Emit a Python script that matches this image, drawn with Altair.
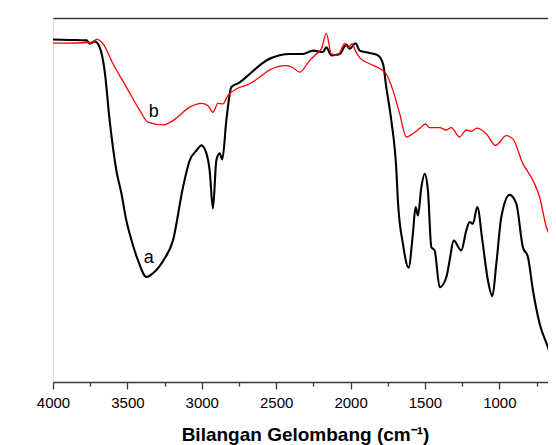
import altair as alt
import pandas as pd

# Spectrum a (black)
a_wn = [4000, 3888, 3774, 3753, 3720, 3686, 3653, 3619, 3574, 3540, 3507, 3485, 3429, 3372, 3328,
        3249, 3194, 3126, 3081, 3036, 3003, 2969, 2947, 2925, 2902, 2880, 2862, 2835, 2801, 2745,
        2678, 2566, 2477, 2409, 2320, 2253, 2186, 2163, 2129, 2073, 2028, 2006, 1966, 1939, 1872,
        1816, 1782, 1760, 1726, 1692, 1682, 1648, 1610, 1581, 1563, 1547, 1524, 1502, 1480, 1457,
        1435, 1401, 1356, 1334, 1307, 1256, 1222, 1200, 1178, 1148, 1114, 1077, 1047, 1020, 987,
        931, 886, 842, 808, 774, 729, 674, 622]
a_t = [73.4, 73.3, 73.2, 72.5, 73.0, 71.7, 66.7, 56.0, 45.3, 40.4, 34.6, 31.8, 26.1, 22.5, 23.3,
       26.5, 30.3, 41.8, 47.5, 49.6, 50.7, 49.0, 45.3, 37.2, 47.5, 49.0, 47.7, 56.0, 63.2, 64.2,
       66.0, 68.9, 70.0, 70.3, 70.3, 71.0, 70.7, 71.7, 70.0, 70.3, 72.3, 71.4, 72.6, 71.0, 70.5,
       70.0, 68.2, 63.2, 56.0, 45.3, 38.9, 29.6, 24.5, 31.8, 37.5, 35.7, 41.8, 44.6, 41.0, 28.9,
       28.2, 20.3, 22.5, 26.1, 30.3, 28.2, 32.5, 34.3, 33.9, 37.5, 30.3, 21.8, 18.4, 25.4, 35.3,
       40.1, 38.2, 28.9, 26.8, 19.6, 12.5, 7.5, 2.5]

# Spectrum b (red)
b_wn = [4000, 3798, 3753, 3742, 3708, 3664, 3597, 3507, 3417, 3362, 3261, 3194, 3081, 3003, 2958,
        2925, 2891, 2858, 2824, 2768, 2678, 2611, 2544, 2432, 2389, 2342, 2275, 2230, 2196, 2163,
        2129, 2085, 2040, 2018, 1988, 1973, 1939, 1872, 1816, 1760, 1715, 1670, 1625, 1581, 1536,
        1497, 1469, 1401, 1356, 1323, 1267, 1222, 1188, 1151, 1088, 1025, 953, 909, 842, 774,
        729, 684, 662, 622]
b_t = [72.6, 72.7, 72.8, 72.5, 73.4, 72.5, 68.2, 63.2, 58.2, 55.7, 55.1, 56.0, 58.9, 59.7, 59.2,
       57.8, 59.7, 59.6, 61.4, 62.8, 63.9, 65.3, 66.9, 67.8, 67.4, 66.4, 68.9, 70.3, 71.4, 74.7,
       70.3, 70.0, 72.5, 71.7, 72.5, 71.4, 69.5, 68.2, 67.4, 66.0, 62.5, 57.5, 52.5, 53.2, 54.3,
       55.3, 54.5, 54.5, 54.0, 54.5, 52.5, 54.0, 53.7, 54.4, 53.2, 50.7, 52.8, 52.1, 46.8, 43.2,
       39.6, 33.2, 31.4, 28.6]

# Curve labels
lab_text = ["a", "b"]
lab_wn = [3357, 3323]
lab_t = [26.5, 57.8]

x_ticks = [4000, 3750, 3500, 3250, 3000, 2750, 2500, 2250, 2000, 1750, 1500, 1250, 1000, 750]
y_ticks = [10, 20, 30, 40, 50, 60, 70]

df_a = pd.DataFrame({"wn": a_wn, "T": a_t})
df_b = pd.DataFrame({"wn": b_wn, "T": b_t})
df_lab = pd.DataFrame({"label": lab_text, "wn": lab_wn, "T": lab_t})

FONT = "Liberation Sans"
AX = "#3a3a3a"

xscale = alt.Scale(domain=[4000, 673], nice=False, zero=False)
yscale = alt.Scale(domain=[0, 78], nice=False, zero=False)

x_bottom = alt.X(
    "wn:Q", scale=xscale,
    axis=alt.Axis(
        values=x_ticks, format="d",
        labelExpr="datum.value % 500 === 0 ? datum.label : ''",
        tickSize=alt.condition("datum.value % 500 === 0", alt.value(7), alt.value(4)),
        grid=False, labelFontSize=15, labelFont=FONT, labelColor="#000",
        labelPadding=6, labelFlush=False, labelOverlap=False,
        domainColor=AX, domainWidth=1.6, tickColor=AX, tickWidth=1.3,
        title="Bilangan Gelombang (cm⁻¹)", titleFont=FONT, titleFontSize=19,
        titleFontWeight="bold", titleColor="#000",
        titleX=252, titleY=58, titleBaseline="alphabetic", titleAnchor="middle",
    ),
)
y_left = alt.Y(
    "T:Q", scale=yscale,
    axis=alt.Axis(
        values=y_ticks, labels=False, tickSize=2, grid=False,
        domainColor=AX, domainWidth=1.6, tickColor=AX, tickWidth=1.3,
        title="%Transmitan", titleFont=FONT, titleFontSize=19, titleFontWeight="bold",
        titleColor="#000", titleX=-35, titleY=187, titleBaseline="middle", titleAngle=270,
    ),
)

line_a = alt.Chart(df_a).mark_line(color="#000000", strokeWidth=2.1, interpolate="monotone", clip=True).encode(
    x=x_bottom, y=y_left, order=alt.Order("wn:Q", sort="descending")
)

line_b = alt.Chart(df_b).mark_line(color="#ff0000", strokeWidth=1.3, interpolate="monotone", clip=True).encode(
    x=alt.X("wn:Q", scale=xscale,
            axis=alt.Axis(orient="top", labels=False, ticks=False, title=None, grid=False,
                          domainColor=AX, domainWidth=1.6)),
    y=alt.Y("T:Q", scale=yscale, axis=None),
    order=alt.Order("wn:Q", sort="descending"),
)

labels = alt.Chart(df_lab).mark_text(font=FONT, fontSize=18, color="#000", baseline="middle", align="center").encode(
    x=alt.X("wn:Q", scale=xscale, axis=None),
    y=alt.Y("T:Q", scale=yscale, axis=None),
    text="label:N",
)

chart = alt.layer(line_a, line_b, labels).resolve_axis(x="independent").properties(
    width=495, height=364,
    autosize=alt.AutoSizeParams(type="none"),
    padding={"left": 45, "top": 10, "right": 0, "bottom": 63},
).configure_view(stroke=None).configure(background="white")

chart.save("out.html", embed_options={"renderer": "svg", "actions": False})
